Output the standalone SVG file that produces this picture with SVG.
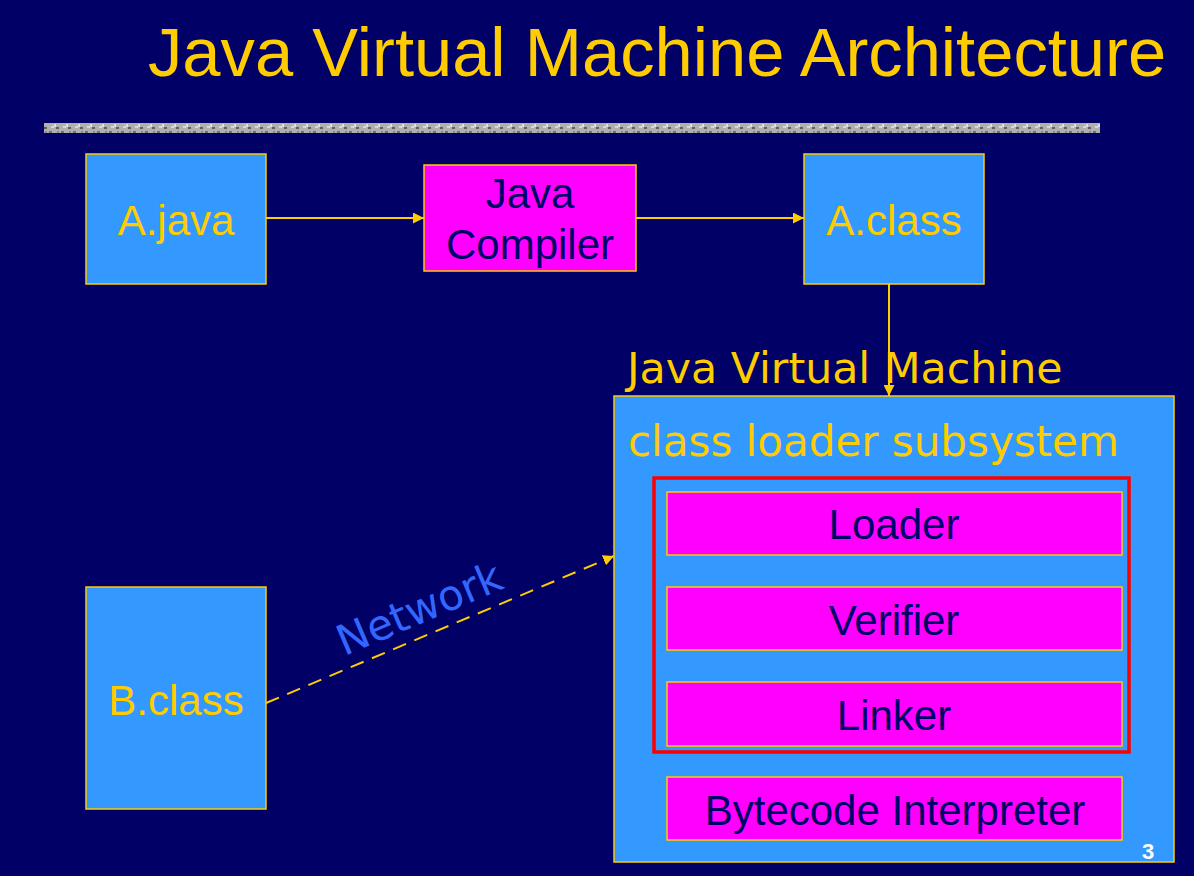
<svg xmlns="http://www.w3.org/2000/svg" width="1194" height="876" viewBox="0 0 1194 876">
<defs>
<style>
.blue{fill:#3399FF;stroke:#FFCC00;stroke-width:1.5}
.mag{fill:#FF00FF;stroke:#FFCC00;stroke-width:1.5}
.yl{fill:#FFCC00;font-family:"Liberation Sans",Arial,sans-serif}
.dk{fill:#000066;font-family:"Liberation Sans",Arial,sans-serif;font-size:42px;text-anchor:middle}
.vd{fill:#FFCC00;font-family:"DejaVu Sans",Verdana,sans-serif}
.conn{stroke:#FFCC00;stroke-width:2;fill:none}
</style>
<marker id="ahs" viewBox="0 0 10 10" refX="10" refY="5" markerWidth="11" markerHeight="11" orient="auto" markerUnits="userSpaceOnUse">
<path d="M0,0 L10,5 L0,10 Z" fill="#FFCC00"/>
</marker>
<pattern id="tex" width="12" height="10" patternUnits="userSpaceOnUse">
<rect width="12" height="10" fill="#b0b0b0"/>
<rect x="1" y="1" width="3" height="2" fill="#707070"/>
<rect x="6" y="4" width="2" height="3" fill="#e0e0e0"/>
<rect x="9" y="1" width="2" height="2" fill="#8a8a8a"/>
<rect x="3" y="6" width="3" height="2" fill="#d8d8d8"/>
<rect x="8" y="7" width="3" height="2" fill="#606060"/>
</pattern>
</defs>
<rect width="1194" height="876" fill="#000066"/>
<text class="yl" x="148" y="76" font-size="68.7">Java Virtual Machine Architecture</text>
<rect x="44" y="123" width="1056" height="10" fill="url(#tex)"/>

<g id="connectors">
<line class="conn" x1="266" y1="218" x2="424" y2="218" marker-end="url(#ahs)"/>
<line class="conn" x1="636" y1="218" x2="804" y2="218" marker-end="url(#ahs)"/>
<line class="conn" x1="889" y1="284" x2="889" y2="396" marker-end="url(#ahs)"/>
<line class="conn" x1="266" y1="703" x2="614" y2="556" stroke-dasharray="14,9" marker-end="url(#ahs)"/>
<line class="conn" x1="888" y1="746" x2="888" y2="777" stroke-width="1.5" marker-end="url(#ahs)"/>
</g>

<g id="a-java">
<rect class="blue" x="86" y="154" width="180" height="130"/>
<text class="yl" x="176" y="235" font-size="42" text-anchor="middle">A.java</text>
</g>
<g id="java-compiler">
<rect class="mag" x="424" y="165" width="212" height="106"/>
<text class="dk" x="530" y="208">Java</text>
<text class="dk" x="530" y="259">Compiler</text>
</g>
<g id="a-class">
<rect class="blue" x="804" y="154" width="180" height="130"/>
<text class="yl" x="894" y="235" font-size="42" text-anchor="middle">A.class</text>
</g>
<g id="b-class">
<rect class="blue" x="86" y="587" width="180" height="222"/>
<text class="yl" x="176" y="715" font-size="42" text-anchor="middle">B.class</text>
</g>
<g id="network-label">
<text x="425" y="622" font-family="DejaVu Sans,Verdana,sans-serif" font-size="42" fill="#3366FF" text-anchor="middle" transform="rotate(-23 425 622)">Network</text>
</g>

<g id="jvm">
<text class="vd" x="627" y="383" style="font-size:42.7px">Java Virtual Machine</text>
<rect class="blue" x="614" y="396" width="560" height="466"/>
<text class="vd" x="628" y="456" style="font-size:42px">class loader subsystem</text>
</g>
<g id="class-loader">
<rect x="654" y="478" width="475" height="274" fill="none" stroke="#FF0000" stroke-width="3.5"/>
</g>
<g id="loader">
<rect class="mag" x="667" y="492" width="455" height="63"/>
<text class="dk" x="894" y="539">Loader</text>
</g>
<g id="verifier">
<rect class="mag" x="667" y="587" width="455" height="63"/>
<text class="dk" x="894" y="635">Verifier</text>
</g>
<g id="linker">
<rect class="mag" x="667" y="682" width="455" height="64"/>
<text class="dk" x="894" y="730">Linker</text>
</g>
<g id="bytecode-interpreter">
<rect class="mag" x="667" y="777" width="455" height="63"/>
<text class="dk" x="895" y="825">Bytecode Interpreter</text>
</g>
<text x="1148" y="859" font-family="Liberation Sans,Arial,sans-serif" font-size="22" font-weight="bold" fill="#FFFFFF" text-anchor="middle">3</text>
</svg>
